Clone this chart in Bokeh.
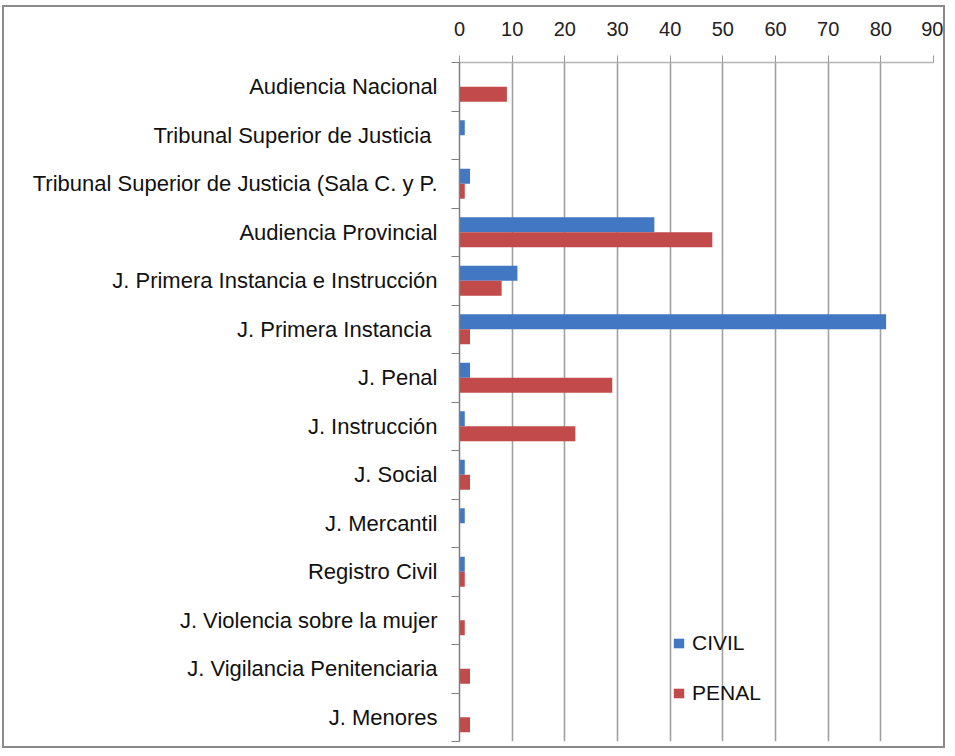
from bokeh.plotting import figure
from bokeh.models import (Range1d, FixedTicker, Legend, LegendItem,
                          ColumnDataSource)
from bokeh.transform import dodge
from bokeh.embed import file_html
from bokeh.resources import INLINE

categories = [
    "Audiencia Nacional",
    "Tribunal Superior de Justicia ",
    "Tribunal Superior de Justicia (Sala C. y P.",
    "Audiencia Provincial",
    "J. Primera Instancia e Instrucción",
    "J. Primera Instancia ",
    "J. Penal",
    "J. Instrucción",
    "J. Social",
    "J. Mercantil",
    "Registro Civil",
    "J. Violencia sobre la mujer",
    "J. Vigilancia Penitenciaria",
    "J. Menores",
]
civil = [0, 1, 2, 37, 11, 81, 2, 1, 1, 1, 1, 0, 0, 0]
penal = [9, 0, 1, 48, 8, 2, 29, 22, 2, 0, 1, 1, 2, 2]
x_ticks = [0, 10, 20, 30, 40, 50, 60, 70, 80, 90]

BLUE = "#4277C3"
RED = "#C24A4B"
GRID = "#a0a0a0"
FONT = "Liberation Sans"

n = len(categories)
centers = [i + 0.5 for i in range(n)]
bounds = [float(i) for i in range(n + 1)]
src = ColumnDataSource(dict(cat=categories, pos=centers, civil=civil, penal=penal))

p = figure(width=943, height=743,
           y_range=Range1d(n, 0),
           x_range=Range1d(0, 90),
           x_axis_location="above", y_axis_location="left",
           output_backend="svg", toolbar_location=None,
           min_border_left=455, min_border_right=14,
           min_border_top=55, min_border_bottom=9,
           styles={"border": "2px solid #8a8a8a",
                   "margin-left": "2px", "margin-top": "5px"})
p.outline_line_color = None
p.background_fill_color = "white"
p.border_fill_color = "white"

# top x axis
xa = p.xaxis[0]
xa.ticker = FixedTicker(ticks=x_ticks)
xa.axis_line_color = "#b5b5b5"
xa.axis_line_width = 1.3
xa.major_tick_out = 7
xa.major_tick_in = 0
xa.major_tick_line_color = "#9a9a9a"
xa.minor_tick_line_color = None
xa.major_label_text_font = FONT
xa.major_label_text_font_size = "20px"
xa.major_label_text_color = "#222222"
xa.major_label_standoff = 20

p.xgrid.ticker = FixedTicker(ticks=x_ticks)
p.xgrid.grid_line_color = GRID
p.xgrid.grid_line_width = 1.6
p.ygrid.visible = False

# left category axis: labels at centers, tick marks at boundaries
ya = p.yaxis[0]
ya.ticker = FixedTicker(ticks=centers, minor_ticks=bounds)
ya.major_label_overrides = {c: name for c, name in zip(centers, categories)}
ya.major_tick_out = 0
ya.major_tick_in = 0
ya.minor_tick_out = 8
ya.minor_tick_in = 0
ya.minor_tick_line_color = "#7f7f7f"
ya.axis_line_color = "#7f7f7f"
ya.axis_line_width = 1.5
ya.major_label_text_font = FONT
ya.major_label_text_font_size = "22px"
ya.major_label_text_color = "#111111"
ya.major_label_standoff = 14

r1 = p.hbar(y=dodge("pos", -0.155), right="civil", left=0,
            height=0.31, source=src, fill_color=BLUE, line_color=None)
r2 = p.hbar(y=dodge("pos", 0.155), right="penal", left=0,
            height=0.31, source=src, fill_color=RED, line_color=None)

legend = Legend(items=[LegendItem(label="CIVIL", renderers=[r1]),
                       LegendItem(label="PENAL", renderers=[r2])],
                location=(213, 36), orientation="vertical",
                border_line_color=None, background_fill_alpha=0,
                padding=0, margin=0, spacing=26,
                glyph_width=13, glyph_height=12, label_standoff=7,
                label_text_font=FONT, label_text_font_size="21px",
                label_text_color="#111111")
p.add_layout(legend)

open("out.html", "w").write(file_html(p, INLINE))
